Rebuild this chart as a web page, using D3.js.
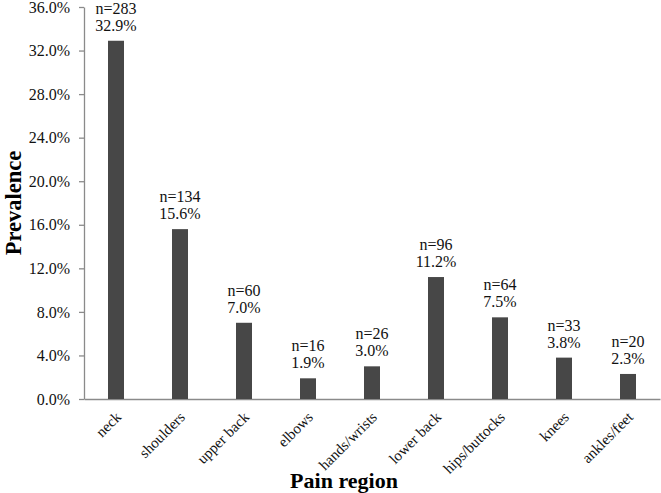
<!DOCTYPE html>
<html>
<head>
<meta charset="utf-8">
<script src="https://cdn.jsdelivr.net/npm/d3@7"></script>
<style>
body { margin: 0; background: #fff; }
</style>
</head>
<body>
<script>
// pain regions and their prevalence
var regions = ["neck", "shoulders", "upper back", "elbows", "hands/wrists", "lower back", "hips/buttocks", "knees", "ankles/feet"];
var counts = [283, 134, 60, 16, 26, 96, 64, 33, 20];
var prevalence = [32.9, 15.6, 7.0, 1.9, 3.0, 11.2, 7.5, 3.8, 2.3];
var yTicks = [0, 4, 8, 12, 16, 20, 24, 28, 32, 36];

var w = 661;
var h = 493;
// plot edges (note: "top" is reserved on window)
var pLeft = 84, pRight = 660, pTop = 7, pBottom = 399;

var ds = [];
for (var i = 0; i < regions.length; i++) {
  ds.push({region: regions[i], n: counts[i], pct: prevalence[i]});
}

var svg = d3.select("body")
  .append("svg")
  .attr("width", w)
  .attr("height", h);

var x = d3.scaleBand()
  .domain(regions)
  .range([pLeft, pRight])
  .paddingInner(0.75)
  .paddingOuter(0.375);

var y = d3.scaleLinear()
  .domain([0, 36])
  .range([pBottom, pTop]);

// y axis
var yAxis = svg.append("g")
  .attr("transform", "translate(" + pLeft + ",0)")
  .call(d3.axisLeft(y).tickValues(yTicks).tickSize(5).tickSizeOuter(0).tickPadding(9)
    .tickFormat(function(d) { return d.toFixed(1) + "%"; }));
yAxis.select(".domain").attr("stroke", "#8a8a8a").attr("stroke-width", 1.3);
yAxis.selectAll(".tick line").attr("stroke", "#8a8a8a").attr("stroke-width", 1.3);
yAxis.selectAll("text")
  .attr("font-family", "Liberation Serif")
  .attr("font-size", "16px")
  .attr("fill", "#111");

// x axis
var xAxis = svg.append("g")
  .attr("transform", "translate(0," + pBottom + ")")
  .call(d3.axisBottom(x).tickSize(0).tickSizeOuter(0).tickPadding(0));
xAxis.select(".domain").attr("stroke", "#8a8a8a").attr("stroke-width", 1.3);
xAxis.selectAll("text")
  .attr("font-family", "Liberation Serif")
  .attr("font-size", "15px")
  .attr("fill", "#111")
  .attr("text-anchor", "end")
  .attr("dy", "0")
  .attr("transform", "translate(6,19) rotate(-45)");

// bars
svg.selectAll("rect.bar")
  .data(ds)
  .enter()
  .append("rect")
  .attr("class", "bar")
  .attr("x", function(d) { return x(d.region); })
  .attr("y", function(d) { return y(d.pct); })
  .attr("width", x.bandwidth())
  .attr("height", function(d) { return pBottom - y(d.pct); })
  .attr("fill", "#474747");

// labels above bars
var lab = svg.selectAll("text.lab")
  .data(ds)
  .enter()
  .append("text")
  .attr("class", "lab")
  .attr("text-anchor", "middle")
  .attr("font-family", "Liberation Serif")
  .attr("font-size", "16px")
  .attr("fill", "#111");
lab.append("tspan")
  .attr("x", function(d) { return x(d.region) + x.bandwidth() / 2; })
  .attr("y", function(d) { return y(d.pct) - 27; })
  .text(function(d) { return "n=" + d.n; });
lab.append("tspan")
  .attr("x", function(d) { return x(d.region) + x.bandwidth() / 2; })
  .attr("y", function(d) { return y(d.pct) - 10; })
  .text(function(d) { return d.pct.toFixed(1) + "%"; });

// axis titles
svg.append("text")
  .attr("text-anchor", "middle")
  .attr("transform", "translate(21," + (pTop + pBottom) / 2 + ") rotate(-90)")
  .attr("font-family", "Liberation Serif")
  .attr("font-weight", "bold")
  .attr("font-size", "22.5px")
  .attr("fill", "#000")
  .text("Prevalence");

svg.append("text")
  .attr("text-anchor", "middle")
  .attr("x", 344)
  .attr("y", 488)
  .attr("font-family", "Liberation Serif")
  .attr("font-weight", "bold")
  .attr("font-size", "22px")
  .attr("fill", "#000")
  .text("Pain region");
</script>
</body>
</html>
